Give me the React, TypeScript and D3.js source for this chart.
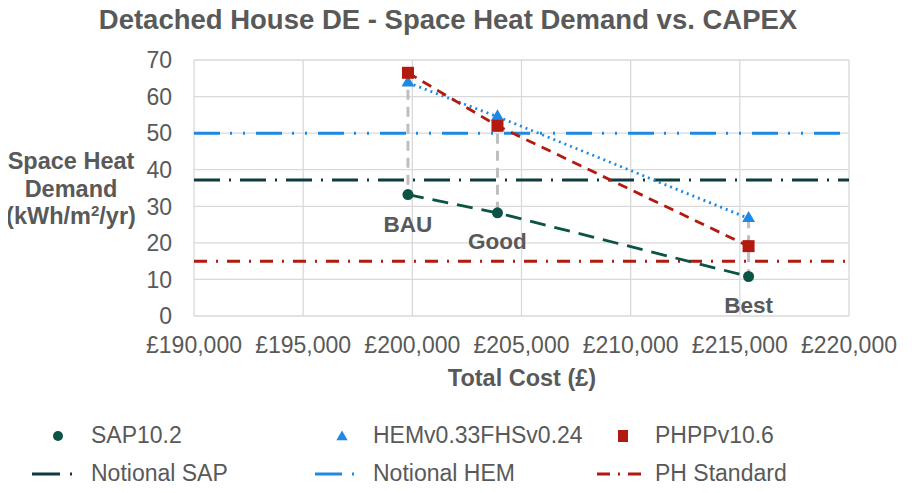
import { useEffect, useRef } from "react";
import * as d3 from "d3";

const scenarios = ["BAU", "Good", "Best"];
const costs = [199800, 203900, 215400];
const sapValues = [33.2, 28.2, 10.8];
const hemValues = [63.8, 54.5, 26.7];
const phppValues = [66.5, 52.0, 19.1];

const notionalSap = 37.2;
const notionalHem = 50;
const phStandard = 15;

const xTicks = [190000, 195000, 200000, 205000, 210000, 215000, 220000];
const yTicks = [0, 10, 20, 30, 40, 50, 60, 70];

const GREY = "#595959";
const GREEN = "#0B5345";
const TEAL = "#0D3B3E";
const BLUE = "#1E88E5";
const RED = "#B2190F";
const FONT = "Arial, 'Liberation Sans', sans-serif";

export default function App() {
  const ref = useRef<SVGSVGElement>(null);

  useEffect(() => {
    if (!ref.current) return;
    const width = 912;
    const height = 493;
    const margin = { top: 60, right: 63, bottom: 177, left: 194 };

    const svg = d3.select(ref.current);
    svg.selectAll("*").remove();
    svg.attr("width", width).attr("height", height).style("font-family", FONT);

    const x = d3.scaleLinear().domain([190000, 220000]).range([margin.left, width - margin.right]);
    const y = d3.scaleLinear().domain([0, 70]).range([height - margin.bottom, margin.top]);

    svg.append("rect").attr("width", width).attr("height", height).attr("fill", "#fff");

    // title
    svg
      .append("text")
      .attr("x", 448)
      .attr("y", 29)
      .attr("text-anchor", "middle")
      .attr("font-size", 27.5)
      .attr("font-weight", "bold")
      .attr("fill", GREY)
      .text("Detached House DE - Space Heat Demand vs. CAPEX");

    // grid
    const grid = svg.append("g").attr("stroke", "#d9d9d9").attr("stroke-width", 1.3);
    grid
      .selectAll("line.h")
      .data(yTicks)
      .join("line")
      .attr("x1", margin.left)
      .attr("x2", width - margin.right)
      .attr("y1", (d) => y(d))
      .attr("y2", (d) => y(d));
    grid
      .selectAll("line.v")
      .data(xTicks)
      .join("line")
      .attr("class", "v")
      .attr("x1", (d) => x(d))
      .attr("x2", (d) => x(d))
      .attr("y1", y(0))
      .attr("y2", y(70));

    // tick labels
    svg
      .append("g")
      .selectAll("text")
      .data(yTicks)
      .join("text")
      .attr("x", margin.left - 22)
      .attr("y", (d) => y(d))
      .attr("dy", "0.36em")
      .attr("text-anchor", "end")
      .attr("fill", GREY)
      .attr("font-size", 23)
      .text((d) => d);

    const fmt = d3.format(",");
    svg
      .append("g")
      .selectAll("text")
      .data(xTicks)
      .join("text")
      .attr("x", (d) => x(d))
      .attr("y", y(0) + 37)
      .attr("text-anchor", "middle")
      .attr("fill", GREY)
      .attr("font-size", 23)
      .text((d) => `£${fmt(d)}`);

    // axis titles
    svg
      .append("text")
      .attr("x", 522)
      .attr("y", 386)
      .attr("text-anchor", "middle")
      .attr("font-size", 23.5)
      .attr("font-weight", "bold")
      .attr("fill", GREY)
      .text("Total Cost (£)");

    const yTitle = svg
      .append("text")
      .attr("text-anchor", "middle")
      .attr("font-size", 23.5)
      .attr("font-weight", "bold")
      .attr("fill", GREY);
    yTitle.append("tspan").attr("x", 71).attr("y", 169).text("Space Heat");
    yTitle.append("tspan").attr("x", 71).attr("y", 197).text("Demand");
    const t3 = yTitle.append("tspan").attr("x", 71).attr("y", 224);
    t3.append("tspan").text("(kWh/m");
    t3.append("tspan").attr("dy", -8).attr("font-size", 15).text("2");
    t3.append("tspan").attr("dy", 8).text("/yr)");

    // reference lines
    const refs = [
      { v: notionalSap, color: TEAL, dash: "26 9 2 9" },
      { v: notionalHem, color: BLUE, dash: "26 10 2 11 2 11" },
      { v: phStandard, color: RED, dash: "13 9 2 9" },
    ];
    svg
      .append("g")
      .selectAll("line")
      .data(refs)
      .join("line")
      .attr("x1", margin.left)
      .attr("x2", width - margin.right)
      .attr("y1", (d) => y(d.v))
      .attr("y2", (d) => y(d.v))
      .attr("stroke", (d) => d.color)
      .attr("stroke-width", 3)
      .attr("stroke-dasharray", (d) => d.dash);

    // high-low drop lines
    svg
      .append("g")
      .selectAll("line")
      .data(costs)
      .join("line")
      .attr("x1", (d) => x(d))
      .attr("x2", (d) => x(d))
      .attr("y1", (_, i) => y(Math.max(sapValues[i], hemValues[i], phppValues[i])))
      .attr("y2", (_, i) => y(Math.min(sapValues[i], hemValues[i], phppValues[i])))
      .attr("stroke", "#bfbfbf")
      .attr("stroke-width", 3)
      .attr("stroke-dasharray", "10 7");

    const line = d3
      .line<number>()
      .x((_, i) => x(costs[i]))
      .y((d) => y(d));

    const series = [
      { vals: sapValues, color: GREEN, dash: "16 9", width: 2.8 },
      { vals: hemValues, color: BLUE, dash: "2 4", width: 2.8 },
      { vals: phppValues, color: RED, dash: "10 7", width: 2.8 },
    ];
    svg
      .append("g")
      .selectAll("path")
      .data(series)
      .join("path")
      .attr("d", (d) => line(d.vals))
      .attr("fill", "none")
      .attr("stroke", (d) => d.color)
      .attr("stroke-width", (d) => d.width)
      .attr("stroke-dasharray", (d) => d.dash);

    // markers
    svg
      .append("g")
      .selectAll("circle")
      .data(sapValues)
      .join("circle")
      .attr("cx", (_, i) => x(costs[i]))
      .attr("cy", (d) => y(d))
      .attr("r", 5.5)
      .attr("fill", GREEN);

    const tri = d3.symbol(d3.symbolTriangle, 72);
    svg
      .append("g")
      .selectAll("path")
      .data(hemValues)
      .join("path")
      .attr("d", tri)
      .attr("transform", (d, i) => `translate(${x(costs[i])},${y(d)})`)
      .attr("fill", BLUE);

    svg
      .append("g")
      .selectAll("rect")
      .data(phppValues)
      .join("rect")
      .attr("x", (_, i) => x(costs[i]) - 6)
      .attr("y", (d) => y(d) - 6)
      .attr("width", 12)
      .attr("height", 12)
      .attr("fill", RED);

    // scenario labels
    const labelDy = [37, 36, 36];
    svg
      .append("g")
      .selectAll("text")
      .data(scenarios)
      .join("text")
      .attr("x", (_, i) => x(costs[i]))
      .attr("y", (_, i) => y(sapValues[i]) + labelDy[i])
      .attr("text-anchor", "middle")
      .attr("font-size", 22.5)
      .attr("font-weight", "bold")
      .attr("fill", GREY)
      .text((d) => d);

    // legend
    const legend = svg.append("g").attr("font-size", 23).attr("fill", GREY);
    const row1 = 436;
    const row2 = 474;
    const cols = [58, 342, 623];
    const textX = [91, 373, 655];
    legend.append("circle").attr("cx", cols[0]).attr("cy", row1).attr("r", 5).attr("fill", GREEN);
    legend
      .append("path")
      .attr("d", d3.symbol(d3.symbolTriangle, 55))
      .attr("transform", `translate(${cols[1]},${row1 + 1})`)
      .attr("fill", BLUE);
    legend
      .append("rect")
      .attr("x", cols[2] - 5)
      .attr("y", row1 - 6)
      .attr("width", 10)
      .attr("height", 12)
      .attr("fill", RED);
    const names1 = ["SAP10.2", "HEMv0.33FHSv0.24", "PHPPv10.6"];
    names1.forEach((n, i) => {
      legend.append("text").attr("x", textX[i]).attr("y", row1 + 7).text(n);
    });
    const names2 = ["Notional SAP", "Notional HEM", "PH Standard"];
    const lx = [32, 315, 597];
    const lw = [42, 41, 51];
    const ldash = ["28 10 2 9", "27 10 2 9", "13 8 2 8 13 8"];
    refs.forEach((r, i) => {
      legend
        .append("line")
        .attr("x1", lx[i])
        .attr("x2", lx[i] + lw[i])
        .attr("y1", row2)
        .attr("y2", row2)
        .attr("stroke", r.color)
        .attr("stroke-width", 3)
        .attr("stroke-dasharray", ldash[i]);
      legend.append("text").attr("x", textX[i]).attr("y", row2 + 7).text(names2[i]);
    });
  }, []);

  return <svg ref={ref} style={{ display: "block", margin: -8 }} />;
}
